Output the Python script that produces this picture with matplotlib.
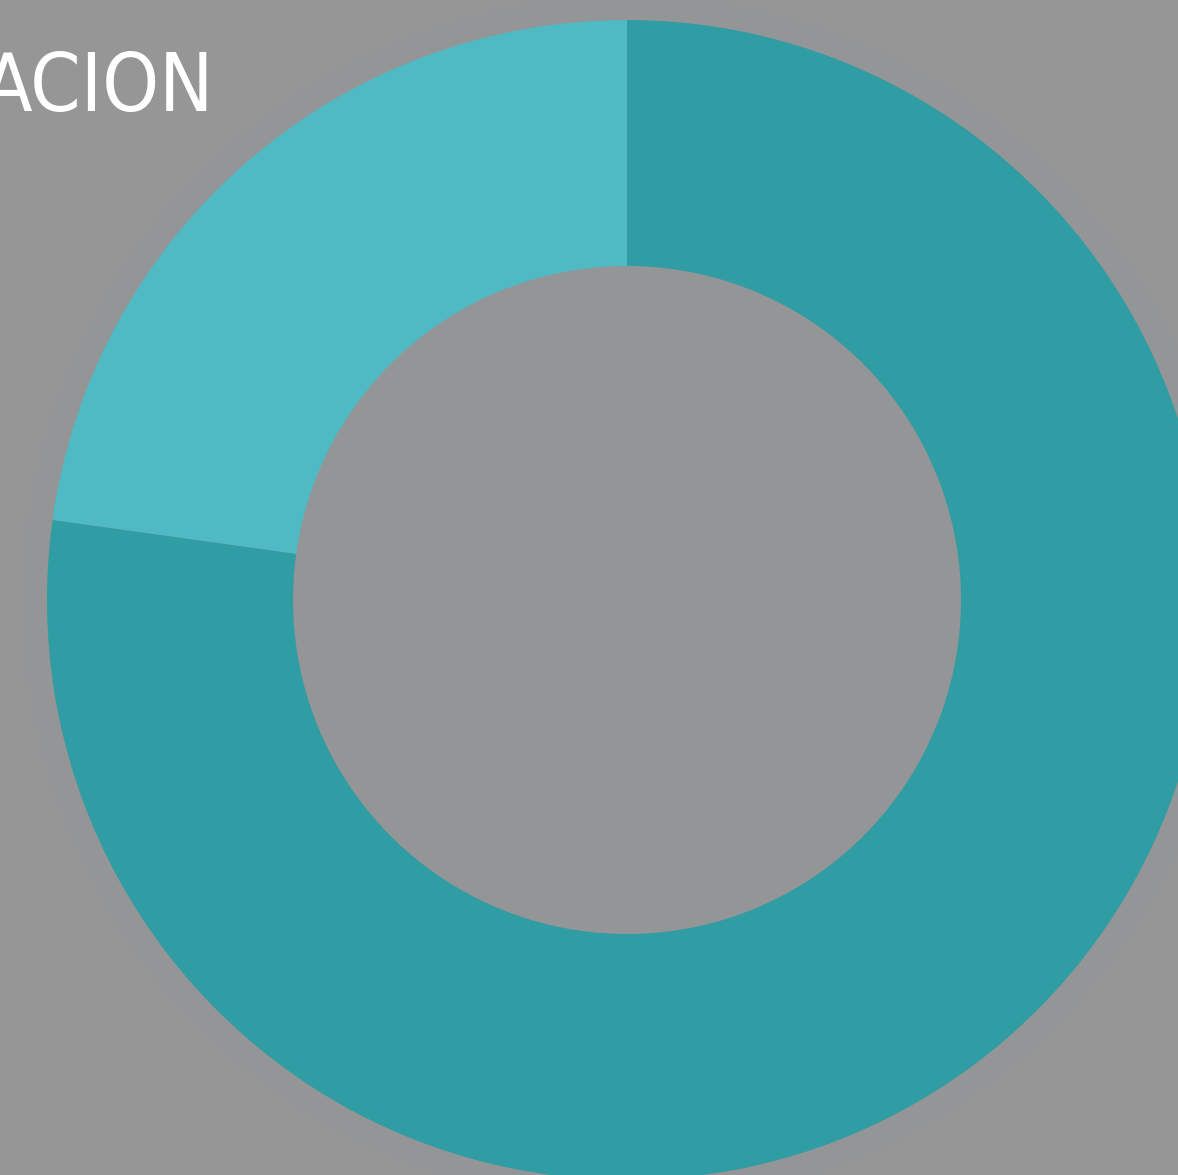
import numpy as np
import matplotlib.pyplot as plt

# porcentajes del anillo (claro arriba a la izquierda, oscuro el resto)
etiquetas = ['Segmento claro', 'Segmento oscuro']
valores = [22.8, 77.2]
colores = ['#4fbac4', '#309ca3']
titulo = 'ACION'

W, H = 1178, 1175
fig = plt.figure(figsize=(W / 100, H / 100), dpi=100)
fig.patch.set_facecolor('#969696')
ax = fig.add_axes([0, 0, 1, 1])
ax.set_facecolor('#969696')
ax.set_xlim(0, W)
ax.set_ylim(0, H)
ax.axis('off')

cx, cy = 627, H - 600

# sombra muy suave detras del anillo
ax.add_patch(plt.Circle((cx, cy), 606, color='#949596', zorder=0, lw=0))

ax.pie(valores, labels=None, colors=colores, startangle=90, counterclock=True,
       center=(cx, cy), radius=580, frame=True,
       wedgeprops=dict(width=246, linewidth=0))
ax.set_xlim(0, W)
ax.set_ylim(0, H)
ax.set_aspect('auto')
ax.axis('off')

ax.text(214, H - 111, titulo, color='white', fontsize=58, ha='right',
        va='baseline', family='DejaVu Sans', fontstretch='condensed')

fig.savefig('out.png', dpi=100, facecolor=fig.get_facecolor())
